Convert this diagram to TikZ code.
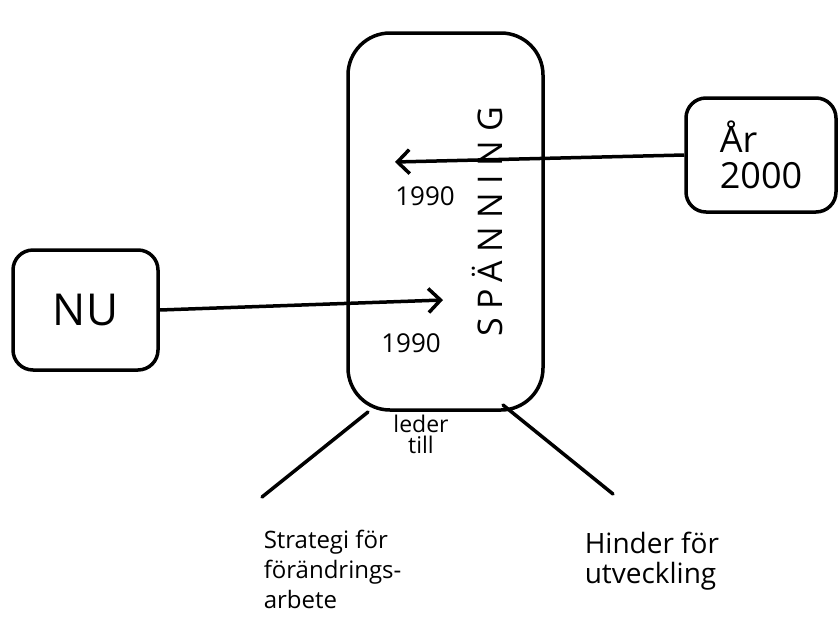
\documentclass[tikz,border=0pt]{standalone}
\usepackage{fontspec}
\setmainfont{Open Sans}
\usetikzlibrary{arrows.meta}

\begin{document}
\begin{tikzpicture}[x=1pt, y=-1pt, line width=3.5pt,
        ruta/.style={draw, rounded corners=20pt, inner sep=0pt},
        pil/.style={-{Straight Barb[length=12pt, width=24pt, line width=3.5pt]}},
        artal/.style={anchor=base, font=\fontsize{26}{30}\selectfont},
        skrift/.style={anchor=north west, align=left, inner sep=0pt}]
        \useasboundingbox (0,0) rectangle (839,625);
        \node[ruta, rounded corners=42pt, minimum width=195pt, minimum height=377pt] (spanning) at (445.5,221.5) {};
        \node[ruta, minimum width=145pt, minimum height=120pt, font=\fontsize{44}{48}\selectfont] (nu) at (85.5,310) {NU};
        \node[ruta, minimum width=150pt, minimum height=114pt, align=left, font=\fontsize{36}{36}\selectfont] (ar) at (761,155) {År\\2000};
        \node[rotate=90, font=\fontsize{34}{40}\selectfont\addfontfeatures{LetterSpace=25}] (ord) at (487,222) {SPÄNNING};
        \node[artal] (ar1990) at (425,205) {1990};
        \node[artal] (nu1990) at (411,352) {1990};
        \coordinate (mal1) at (395,162);
        \coordinate (mal2) at (443,300);
        \draw[pil] (ar.west) -- (mal1);
        \draw[pil] (nu.east) -- (mal2);
        \node[anchor=north, align=center, inner sep=0pt, font=\fontsize{23}{21}\selectfont] (leder) at (421,413) {leder\\till};
        \coordinate (v1) at (368,412);
        \coordinate (v2) at (262,497);
        \coordinate (h1) at (503,405);
        \coordinate (h2) at (613,494);
        \draw[line cap=round] (v1) -- (v2);
        \draw[line cap=round] (h1) -- (h2);
        \node[skrift, font=\fontsize{24}{30}\selectfont] (strategi) at (262,528) {Strategi för\\förändrings-\\arbete};
        \node[skrift, font=\fontsize{28}{30}\selectfont] (hinder) at (583,530) {Hinder för\\utveckling};
\end{tikzpicture}
\end{document}
